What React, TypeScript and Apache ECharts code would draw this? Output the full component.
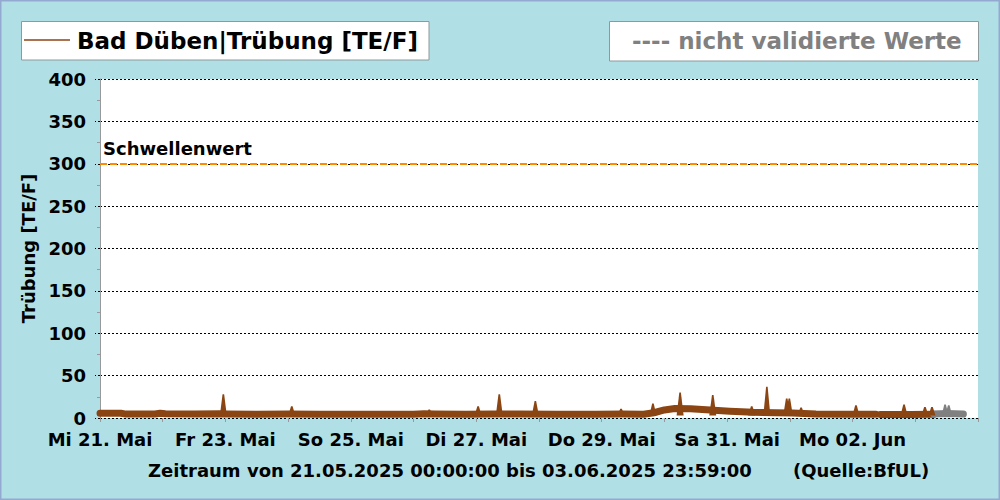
import { useEffect, useRef } from 'react'
import * as echarts from 'echarts'

// Stunden ab 21.05.2025 00:00
const hours = [0, 8, 10, 21, 23, 25, 36, 46, 48, 60, 72, 84, 96, 108, 120, 124, 128, 140, 150, 160, 175, 190, 200, 208, 212, 216, 220, 226, 232, 241, 250, 258, 265, 274, 285, 296.9, 297.7, 298.6, 310, 319]
const turbidity = [5.6, 5.6, 4.6, 4.8, 5.6, 4.9, 4.6, 5.0, 4.8, 4.4, 4.6, 4.3, 4.4, 4.5, 4.4, 4.9, 4.6, 4.5, 4.8, 4.6, 4.4, 4.5, 4.6, 4.4, 6.2, 9.5, 11.2, 11.0, 9.6, 8.0, 6.8, 6.3, 5.8, 4.8, 4.5, 4.3, null, 4.2, 4.1, 4.3]

// nicht validierte Werte
const grayHours = [319, 324, 330.4]
const grayValues = [4.8, 5.2, 4.6]

// kurze Spitzen
const spikeHours = [22, 47.2, 73.4, 126, 144.7, 152.8, 166.6, 199.4, 211.6, 222, 234.5, 249.4, 255.2, 262.8, 263.8, 268.3, 289.3, 307.7, 315.7, 318.4]
const spikePeaks = [7.5, 28, 14, 10, 14, 28, 20, 11, 17, 30, 27, 14, 37, 23, 23, 12.5, 15, 16, 13, 13]
const graySpikeHours = [323.4, 324.8]
const graySpikePeaks = [16, 15]

const xLabels = ['Mi 21. Mai', 'Fr 23. Mai', 'So 25. Mai', 'Di 27. Mai', 'Do 29. Mai', 'Sa 31. Mai', 'Mo 02. Jun']
const threshold = 300

const BROWN = '#8B4513'
const GRAY = '#808080'
const FONT = 'DejaVu Sans'

function spikeRenderer(color: string) {
  return (_params: any, api: any) => {
    const top = api.coord([api.value(0), api.value(1)])
    const base = api.coord([api.value(0), 3])
    return {
      type: 'polygon',
      shape: {
        points: [
          [base[0] - 3.5, base[1]],
          [top[0] - 0.8, top[1]],
          [top[0] + 0.8, top[1]],
          [base[0] + 3.5, base[1]]
        ]
      },
      style: { fill: color }
    }
  }
}

export default function App() {
  const chartRef = useRef<HTMLDivElement>(null)

  useEffect(() => {
    document.body.style.margin = '0'
    if (!chartRef.current) return
    const chart = echarts.init(chartRef.current, undefined, { renderer: 'svg' })

    const option: any = {
      animation: false,
      backgroundColor: '#B0E0E6',
      textStyle: { fontFamily: FONT },
      grid: {
        left: 100,
        top: 79,
        right: 22,
        bottom: 82,
        show: true,
        backgroundColor: '#ffffff',
        borderWidth: 0
      },
      xAxis: {
        type: 'value',
        min: 0,
        max: 336,
        interval: 24,
        axisLine: { show: false },
        axisTick: { show: true, length: 4, lineStyle: { color: '#999999' } },
        splitLine: { show: false },
        axisLabel: {
          color: '#000',
          fontFamily: FONT,
          fontWeight: 'bold',
          fontSize: 18,
          margin: 12,
          formatter: (v: number) => (v % 48 === 0 ? xLabels[v / 48] ?? '' : '')
        }
      },
      yAxis: {
        type: 'value',
        min: 0,
        max: 400,
        interval: 50,
        name: 'Trübung [TE/F]',
        nameLocation: 'middle',
        nameGap: 62,
        nameTextStyle: { color: '#000', fontFamily: FONT, fontWeight: 'bold', fontSize: 18 },
        axisLine: { show: true, lineStyle: { color: '#999999' } },
        axisTick: { show: true, length: 5, lineStyle: { color: '#000', type: [2, 2] } },
        minorTick: { show: true, splitNumber: 2, length: 3, lineStyle: { color: '#999999' } },
        splitLine: { show: true, lineStyle: { color: '#000', type: [2, 2], width: 1 } },
        axisLabel: { color: '#000', fontFamily: FONT, fontWeight: 'bold', fontSize: 18, margin: 14 }
      },
      series: [
        {
          type: 'line',
          data: hours.map((h, i) => [h, turbidity[i]]),
          showSymbol: false,
          connectNulls: false,
          lineStyle: { color: BROWN, width: 7, cap: 'round', join: 'round' },
          z: 3,
          markLine: {
            silent: true,
            symbol: 'none',
            data: [{ yAxis: threshold }],
            lineStyle: { color: '#FF8C00', type: [7, 3], width: 2 },
            label: {
              show: true,
              position: 'insideStartTop',
              formatter: 'Schwellenwert',
              color: '#000',
              fontFamily: FONT,
              fontWeight: 'bold',
              fontSize: 18,
              distance: [3, 6]
            }
          }
        },
        {
          type: 'line',
          data: grayHours.map((h, i) => [h, grayValues[i]]),
          showSymbol: false,
          lineStyle: { color: GRAY, width: 7, cap: 'round', join: 'round' },
          z: 3
        },
        {
          type: 'custom',
          data: spikeHours.map((h, i) => [h, spikePeaks[i]]),
          renderItem: spikeRenderer(BROWN),
          encode: { x: 0, y: 1 },
          z: 4
        },
        {
          type: 'custom',
          data: graySpikeHours.map((h, i) => [h, graySpikePeaks[i]]),
          renderItem: spikeRenderer(GRAY),
          encode: { x: 0, y: 1 },
          z: 4
        }
      ],
      graphic: [
        {
          type: 'rect',
          shape: { x: 0.75, y: 0.75, width: 998.5, height: 498.5 },
          style: { fill: 'none', stroke: '#93A9CF', lineWidth: 1.5 },
          silent: true
        },
        {
          type: 'rect',
          shape: { x: 21.5, y: 21.5, width: 407.5, height: 38.5 },
          style: { fill: '#ffffff', stroke: '#8C9A9C', lineWidth: 1 }
        },
        {
          type: 'line',
          shape: { x1: 24, y1: 40, x2: 70, y2: 40 },
          style: { stroke: BROWN, lineWidth: 1.5 }
        },
        {
          type: 'text',
          x: 77,
          y: 41,
          style: {
            text: 'Bad Düben|Trübung [TE/F]',
            fill: '#000',
            font: `bold 23px "${FONT}"`,
            textVerticalAlign: 'middle'
          }
        },
        {
          type: 'rect',
          shape: { x: 609.5, y: 21.5, width: 369, height: 39.5 },
          style: { fill: '#ffffff', stroke: '#8C9A9C', lineWidth: 1 }
        },
        {
          type: 'text',
          x: 632,
          y: 41,
          style: {
            text: '---- nicht validierte Werte',
            fill: GRAY,
            font: `bold 23px "${FONT}"`,
            textVerticalAlign: 'middle'
          }
        },
        {
          type: 'text',
          x: 148,
          y: 470,
          style: {
            text: 'Zeitraum von 21.05.2025 00:00:00 bis 03.06.2025 23:59:00',
            fill: '#000',
            font: `bold 18px "${FONT}"`,
            textVerticalAlign: 'middle'
          }
        },
        {
          type: 'text',
          x: 793,
          y: 470,
          style: {
            text: '(Quelle:BfUL)',
            fill: '#000',
            font: `bold 18px "${FONT}"`,
            textVerticalAlign: 'middle'
          }
        }
      ]
    }

    chart.setOption(option)
    return () => chart.dispose()
  }, [])

  return <div ref={chartRef} style={{ width: 1000, height: 500 }} />
}
